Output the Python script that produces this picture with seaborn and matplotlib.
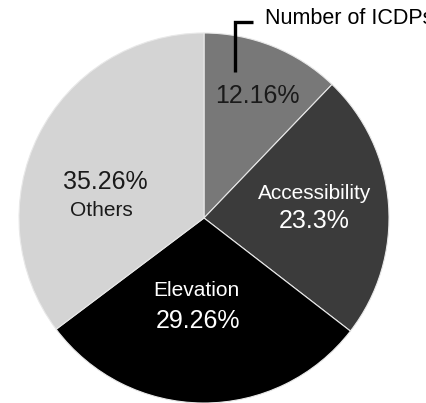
import matplotlib
matplotlib.use("Agg")
import matplotlib.pyplot as plt
import seaborn as sns

# Share of ICDPs by factor (clockwise from 12 o'clock)
categories = ["Number of ICDPs", "Accessibility", "Elevation", "Others"]
shares = [12.16, 23.3, 29.26, 35.26]
share_labels = ["12.16%", "23.3%", "29.26%", "35.26%"]
slice_colors = ["#787878", "#3b3b3b", "#000000", "#d4d4d4"]

sns.set_theme(style="white")
plt.rcParams["font.family"] = ["Liberation Sans", "DejaVu Sans"]

fig = plt.figure(figsize=(4.27, 4.03), dpi=100)
ax = fig.add_axes([19 / 427, 0.0, 370 / 427, 370 / 403])
ax.pie(shares, colors=slice_colors, startangle=90, counterclock=False,
       wedgeprops=dict(edgecolor="#e8e8e8", linewidth=0.8))
ax.set_xlim(-1, 1)
ax.set_ylim(-1, 1)
ax.axis("off")

pct_size = 18
name_size = 15

# Slice annotations
ax.text(0.290, 0.660, share_labels[0], color="#1a1a1a", fontsize=pct_size,
        ha="center", va="center")
ax.text(0.600, 0.135, categories[1], color="white", fontsize=name_size,
        ha="center", va="center")
ax.text(0.597, -0.016, share_labels[1], color="white", fontsize=pct_size,
        ha="center", va="center")
ax.text(-0.043, -0.390, categories[2], color="white", fontsize=name_size,
        ha="center", va="center")
ax.text(-0.035, -0.557, share_labels[2], color="white", fontsize=pct_size,
        ha="center", va="center")
ax.text(-0.532, 0.195, share_labels[3], color="#1a1a1a", fontsize=pct_size,
        ha="center", va="center")
ax.text(-0.554, 0.043, categories[3], color="#1a1a1a", fontsize=name_size,
        ha="center", va="center")

# Callout bracket for the smallest slice
ax.plot([0.168, 0.168, 0.265], [0.789, 1.059, 1.059], color="black",
        linewidth=2.4, clip_on=False, solid_capstyle="butt",
        solid_joinstyle="miter")
ax.text(0.330, 1.081, categories[0], color="black", fontsize=15.5,
        ha="left", va="center", clip_on=False)

fig.savefig("out.png", dpi=100)
